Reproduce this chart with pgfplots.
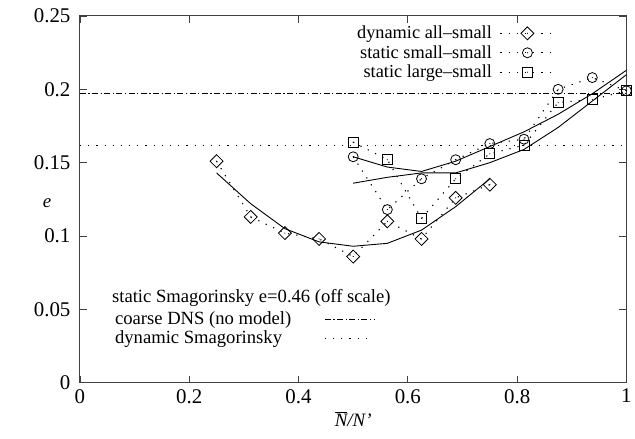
\documentclass[border=0pt]{standalone}
\usepackage{fontspec}
\setmainfont{Liberation Serif}
\usepackage{pgfplots}
\pgfplotsset{compat=1.18}

% gnuplot-like hollow marks with a dot in the middle
\pgfdeclareplotmark{gdiamond}{%
  \pgfpathmoveto{\pgfqpoint{\pgfplotmarksize}{0pt}}%
  \pgfpathlineto{\pgfqpoint{0pt}{\pgfplotmarksize}}%
  \pgfpathlineto{\pgfqpoint{-\pgfplotmarksize}{0pt}}%
  \pgfpathlineto{\pgfqpoint{0pt}{-\pgfplotmarksize}}%
  \pgfpathclose\pgfusepathqstroke
  \pgfpathcircle{\pgfpointorigin}{0.6pt}\pgfusepathqfill}
\pgfdeclareplotmark{gcircle}{%
  \pgfpathcircle{\pgfpointorigin}{\pgfplotmarksize}\pgfusepathqstroke
  \pgfpathcircle{\pgfpointorigin}{0.6pt}\pgfusepathqfill}
\pgfdeclareplotmark{gsquare}{%
  \pgfpathrectangle{\pgfqpoint{-\pgfplotmarksize}{-\pgfplotmarksize}}{\pgfqpoint{2\pgfplotmarksize}{2\pgfplotmarksize}}\pgfusepathqstroke
  \pgfpathcircle{\pgfpointorigin}{0.6pt}\pgfusepathqfill}

\tikzset{
  gdot/.style={dash pattern=on 1.2bp off 7bp, line width=1.1bp},
  gdashdot/.style={dash pattern=on 6bp off 2.5bp on 1.2bp off 2.5bp, line width=0.9bp},
}

\begin{document}
\begin{tikzpicture}
\begin{axis}[
    name=main,
    scale only axis,
    width=547bp, height=367bp,
    xmin=0, xmax=1, ymin=0, ymax=0.25,
    xtick={0,0.2,0.4,0.6,0.8,1},
    xticklabels={0,0.2,0.4,0.6,0.8,1},
    ytick={0,0.05,0.1,0.15,0.2,0.25},
    yticklabels={0,0.05,0.1,0.15,0.2,0.25},
    tick label style={font=\fontsize{21}{24}\selectfont},
    xticklabel style={yshift=-3bp},
    yticklabel style={xshift=-6bp},
    major tick length=7bp,
    axis line style={line width=1bp, black!75},
    tick style={black!75, line width=0.8bp},
    xlabel={$\overline{\mbox{\itshape N}}$\textit{/N'}},
    xlabel style={font=\fontsize{19}{22}\selectfont, at={(axis description cs:0.5,-0.10)}, anchor=center},
    ylabel={\itshape e},
    ylabel style={font=\fontsize{19}{22}\selectfont, rotate=-90, at={(axis description cs:-0.06,0.49)}, anchor=center},
    legend style={at={(axis description cs:0.875,0.985)}, anchor=north east,
      draw=none, fill=none, font=\fontsize{18.4}{21}\selectfont,
      column sep=8bp, row sep=0pt,
      nodes={inner xsep=0pt, inner ysep=2.6bp}},
    legend plot pos=right,
    legend cell align=right,
    legend image code/.code={\draw[mark repeat=2,mark phase=2] plot coordinates {(0bp,0bp)(27bp,0bp)(54bp,0bp)};},
]
% dynamic all-small
\addplot[black, gdot, mark=gdiamond, mark size=6.5bp, mark options={solid, line width=0.8bp}]
  coordinates {(0.25,0.151)(0.3125,0.113)(0.375,0.102)(0.4375,0.098)(0.5,0.086)
               (0.5625,0.110)(0.625,0.098)(0.6875,0.126)(0.75,0.135)};
% static small-small
\addplot[black, gdot, mark=gcircle, mark size=5bp, mark options={solid, line width=0.8bp}]
  coordinates {(0.5,0.154)(0.5625,0.118)(0.625,0.139)(0.6875,0.152)(0.75,0.163)
               (0.8125,0.166)(0.875,0.200)(0.9375,0.208)(1.0,0.199)};
% static large-small
\addplot[black, gdot, mark=gsquare, mark size=5bp, mark options={solid, line width=0.8bp}]
  coordinates {(0.5,0.164)(0.5625,0.152)(0.625,0.112)(0.6875,0.139)(0.75,0.156)
               (0.8125,0.162)(0.875,0.191)(0.9375,0.193)(1.0,0.199)};
\legend{dynamic all–small, static small–small, static large–small}

% fitted curves
\addplot[black, line width=0.9bp, forget plot]
  coordinates {(0.25,0.143)(0.3125,0.122)(0.375,0.105)(0.4375,0.096)(0.5,0.093)
               (0.5625,0.095)(0.625,0.104)(0.6875,0.120)(0.75,0.139)};
\addplot[black, line width=0.9bp, forget plot]
  coordinates {(0.5,0.154)(0.5625,0.147)(0.625,0.144)(0.6875,0.151)(0.75,0.161)
               (0.8125,0.171)(0.875,0.183)(0.9375,0.197)(1.0,0.213)};
\addplot[black, line width=0.9bp, forget plot]
  coordinates {(0.5,0.136)(0.5625,0.140)(0.625,0.143)(0.6875,0.143)(0.75,0.150)
               (0.8125,0.159)(0.875,0.174)(0.9375,0.192)(1.0,0.210)};

% reference levels
\addplot[black, gdashdot, forget plot] coordinates {(0,0.197)(1,0.197)};
\addplot[black, gdot, forget plot] coordinates {(0,0.162)(1,0.162)};
\end{axis}

\begin{axis}[
    scale only axis, hide axis,
    width=547bp, height=367bp,
    xmin=0, xmax=1, ymin=0, ymax=0.25,
    legend style={at={(axis description cs:0.0585,0.205)}, anchor=north west,
      draw=none, fill=none, font=\fontsize{18.7}{21}\selectfont,
      column sep=33bp, row sep=0pt,
      nodes={inner xsep=0pt, inner ysep=2.3bp}},
    legend plot pos=right,
    legend cell align=left,
    legend image code/.code={\draw plot coordinates {(0bp,0bp)(49bp,0bp)};},
]
\addlegendimage{black, gdashdot}
\addlegendimage{black, gdot}
\legend{coarse DNS (no model), dynamic Smagorinsky}
\node[anchor=west, inner sep=0pt, font=\fontsize{18.7}{21}\selectfont]
  at (axis description cs:0.0585,0.230) {static Smagorinsky e=0.46 (off scale)};
\end{axis}

\path ([xshift=-80bp,yshift=-56bp]main.south west) rectangle ([xshift=8bp,yshift=16bp]main.north east);
\end{tikzpicture}
\end{document}
